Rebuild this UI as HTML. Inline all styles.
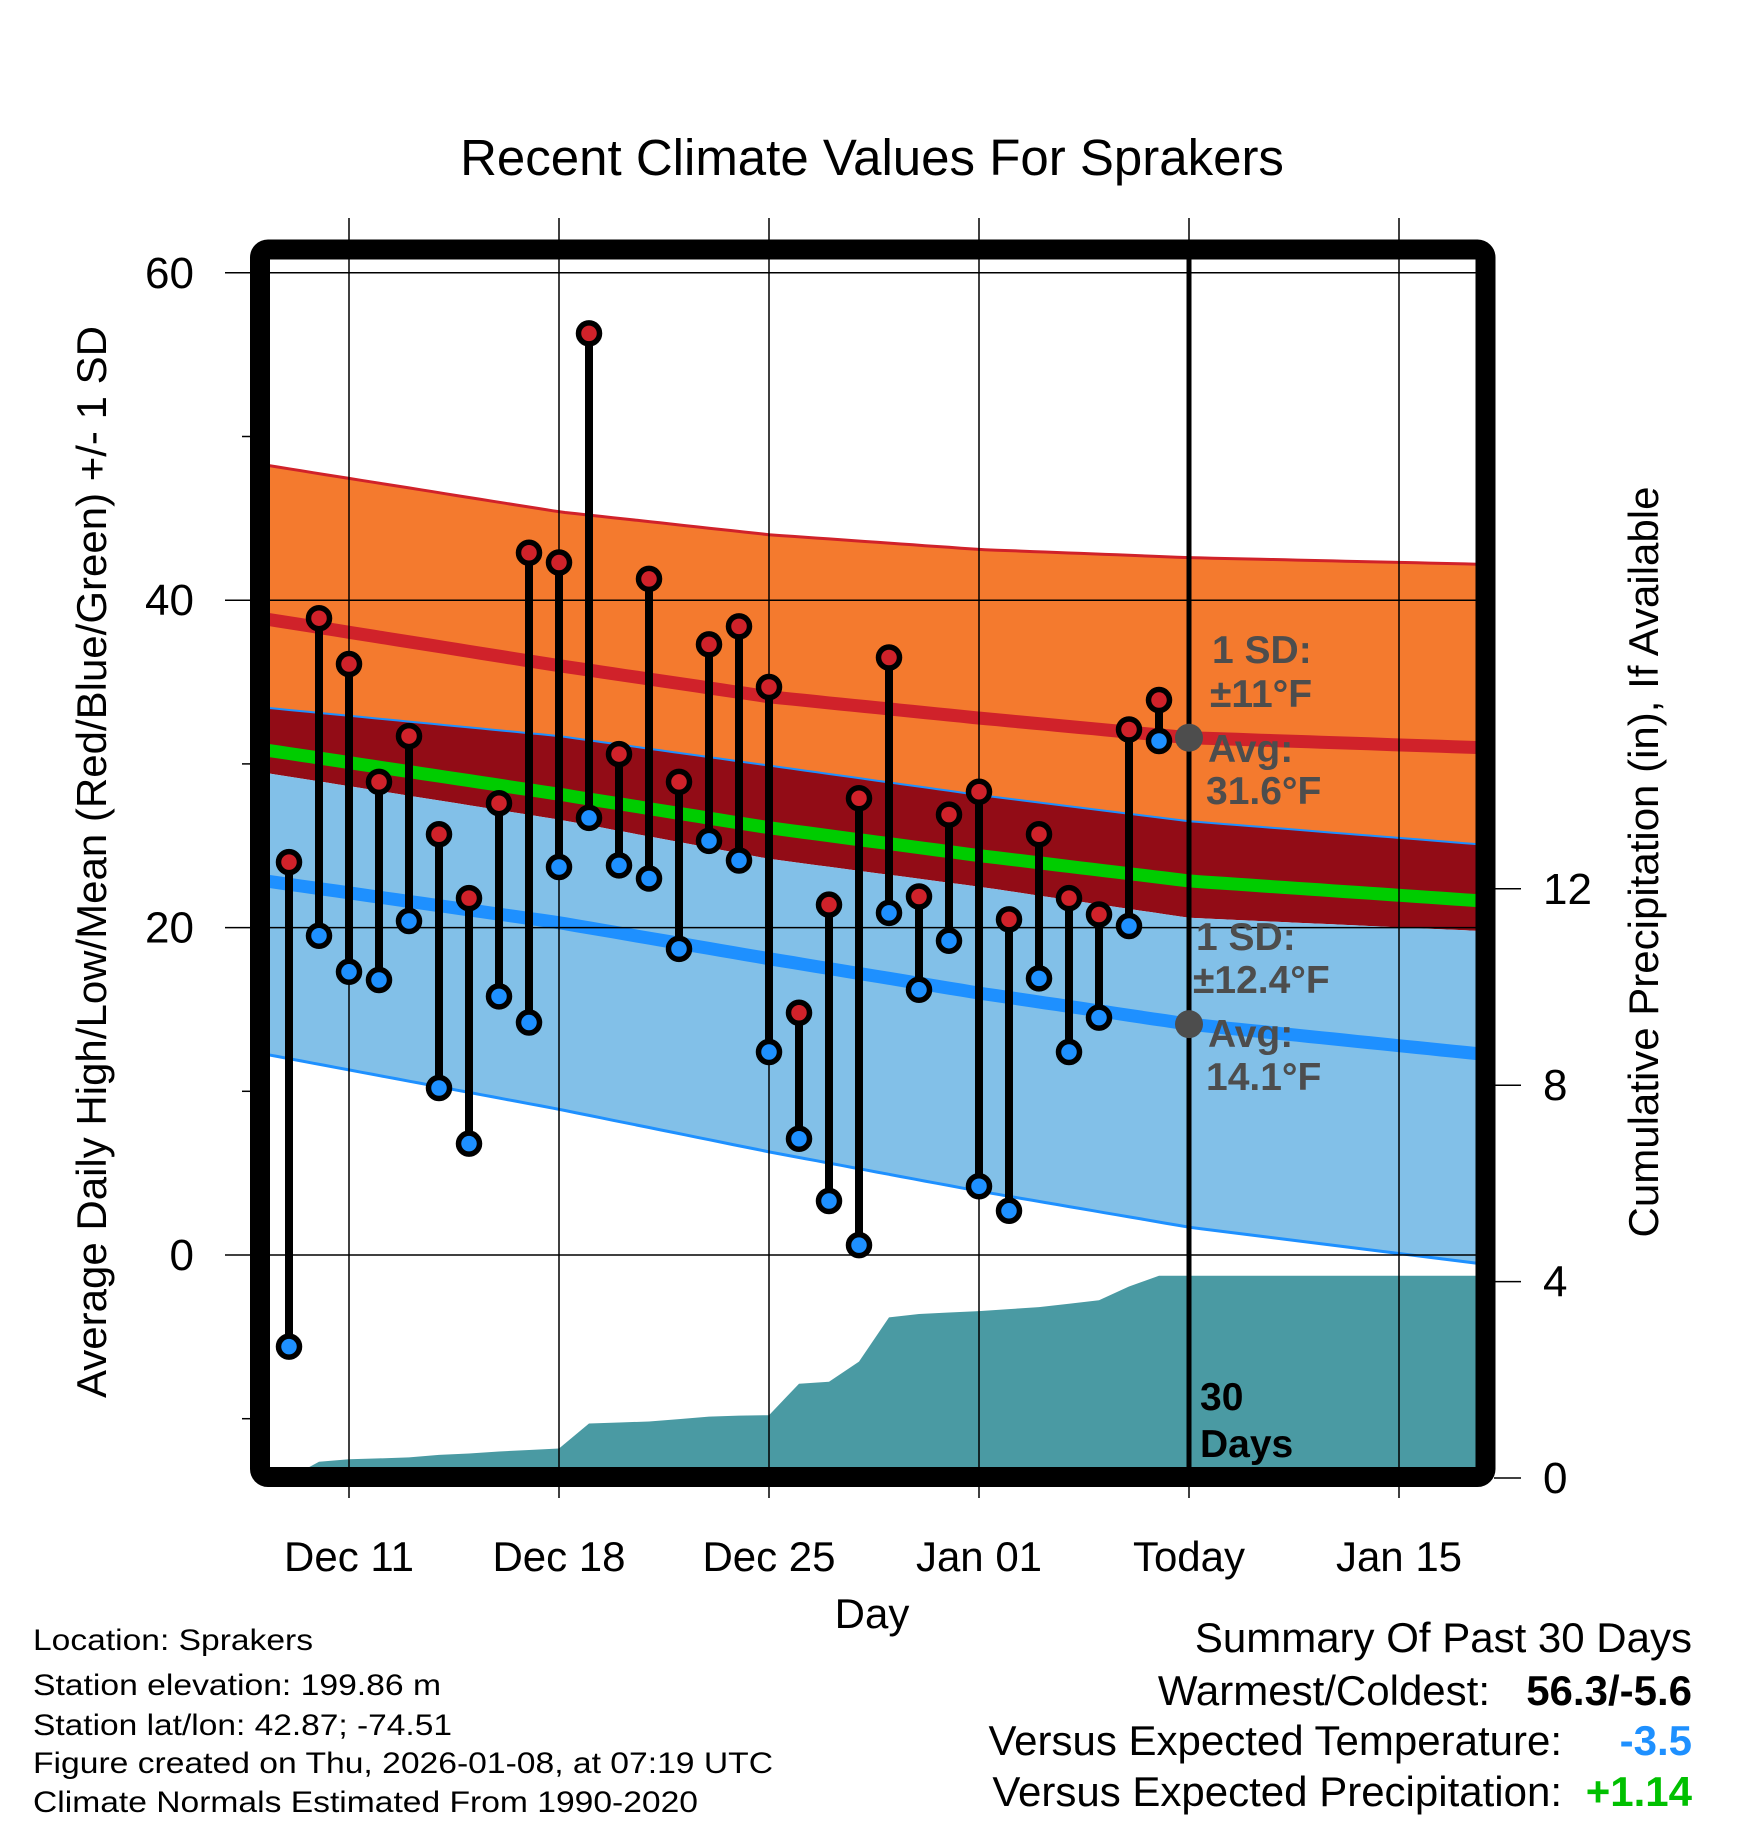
<!DOCTYPE html>
<html><head><meta charset="utf-8"><style>
html,body{margin:0;padding:0;background:#fff}
svg{display:block}
text{font-family:"Liberation Sans",sans-serif}
</style></head><body>
<svg id="chart" width="1748" height="1828" viewBox="0 0 1748 1828" xmlns="http://www.w3.org/2000/svg">
<defs><clipPath id="plotclip"><rect x="270" y="260" width="1208" height="1208"/></clipPath></defs>
<g id="bands" clip-path="url(#plotclip)"></g>
<g id="grid"></g>
<g id="marks"></g>
<rect x="260" y="249.5" width="1225.5" height="1227.5" rx="8" fill="none" stroke="#000" stroke-width="20"/>
<g id="labels"></g>
<text x="872" y="175" font-size="51" text-anchor="middle">Recent Climate Values For Sprakers</text>
<text x="872" y="1628" font-size="42" text-anchor="middle">Day</text>
<text transform="translate(106,862) rotate(-90)" font-size="42" text-anchor="middle">Average Daily High/Low/Mean (Red/Blue/Green) +/- 1 SD</text>
<text transform="translate(1658,862) rotate(-90)" font-size="42" text-anchor="middle">Cumulative Precipitation (in), If Available</text>
<g font-weight="bold" font-size="39" fill="#4d4d4d">
<text x="1212" y="663">1 SD:</text>
<text x="1210" y="707">±11°F</text>
<text x="1208" y="762">Avg:</text>
<text x="1206" y="804">31.6°F</text>
<text x="1196" y="950">1 SD:</text>
<text x="1193" y="993">±12.4°F</text>
<text x="1208" y="1047">Avg:</text>
<text x="1206" y="1090">14.1°F</text>
</g>
<g font-weight="bold" font-size="39">
<text x="1200" y="1410">30</text><text x="1200" y="1457">Days</text></g>
<g font-size="30">
<text x="33" y="1650" textLength="280" lengthAdjust="spacingAndGlyphs">Location: Sprakers</text>
<text x="33" y="1695" textLength="408" lengthAdjust="spacingAndGlyphs">Station elevation: 199.86 m</text>
<text x="33" y="1735" textLength="419" lengthAdjust="spacingAndGlyphs">Station lat/lon: 42.87; -74.51</text>
<text x="33" y="1773" textLength="740" lengthAdjust="spacingAndGlyphs">Figure created on Thu, 2026-01-08, at 07:19 UTC</text>
<text x="33" y="1812" textLength="665" lengthAdjust="spacingAndGlyphs">Climate Normals Estimated From 1990-2020</text>
</g>
<g font-size="42" text-anchor="end">
<text x="1692" y="1652">Summary Of Past 30 Days</text>
<text x="1490" y="1705">Warmest/Coldest:</text>
<text x="1692" y="1705" font-weight="bold">56.3/-5.6</text>
<text x="1562" y="1755">Versus Expected Temperature:</text>
<text x="1692" y="1755" font-weight="bold" fill="#1e90ff">-3.5</text>
<text x="1562" y="1806">Versus Expected Precipitation:</text>
<text x="1692" y="1806" font-weight="bold" fill="#00c000">+1.14</text>
</g>
</svg>
<script>
// days relative to Dec 11 (0)
const obsDays = [-2,-1,0,1,2,3,4,5,6,7,8,9,10,11,12,13,14,15,16,17,18,19,20,21,22,23,24,25,26,27];
const highs = [24.0,38.9,36.1,28.9,31.7,25.7,21.8,27.6,42.9,42.3,56.3,30.6,41.3,28.9,37.3,38.4,34.7,14.8,21.4,27.9,36.5,21.9,26.9,28.3,20.5,25.7,21.8,20.8,32.1,33.9];
const lows = [-5.6,19.5,17.3,16.8,20.4,10.2,6.8,15.8,14.2,23.7,26.7,23.8,23.0,18.7,25.3,24.1,12.4,7.1,3.3,0.6,20.9,16.2,19.2,4.2,2.7,16.9,12.4,14.5,20.1,31.4];
const precip = [0.0,0.33,0.38,0.40,0.42,0.47,0.50,0.54,0.57,0.60,1.11,1.13,1.15,1.20,1.25,1.27,1.28,1.92,1.96,2.37,3.27,3.34,3.37,3.40,3.44,3.48,3.55,3.62,3.90,4.12];
const normDays = [-2.6,7,14,21,28,37.6];
const normHigh = [38.8,36.0,34.1,32.8,31.6,31.0];
const normLow = [22.8,20.3,18.1,16.0,14.1,12.3];
const sdHigh = [9.4,9.4,9.9,10.3,11.0,11.2];
const sdLow = [10.6,11.4,11.8,12.1,12.4,12.8];
const xTickDays = [0,7,14,21,28,35];
const xTickLabels = ["Dec 11","Dec 18","Dec 25","Jan 01","Today","Jan 15"];
const yTicks = [60,40,20,0];
const yMinor = [50,30,10,-10];
const pTicks = [0,4,8,12];
const todayDay = 28, lastDay = 38.2, firstDay = -2.8;

const NS="http://www.w3.org/2000/svg";
const X = d => 349 + 30*d;
const Y = v => 1255 - 16.37*v;
const P = p => 1478 - 49.1*p;
function mk(tag, attrs, parent){const e=document.createElementNS(NS,tag);for(const k in attrs)e.setAttribute(k,attrs[k]);parent.appendChild(e);return e;}
function interp(arr,d){for(let i=0;i<normDays.length-1;i++){if(d<=normDays[i+1]||i==normDays.length-2){const t=(d-normDays[i])/(normDays[i+1]-normDays[i]);return arr[i]+t*(arr[i+1]-arr[i]);}}}
const samp=[];for(let d=firstDay;d<=lastDay+0.01;d+=0.4)samp.push(d);
const fH=d=>interp(normHigh,d), fL=d=>interp(normLow,d), sH=d=>interp(sdHigh,d), sL=d=>interp(sdLow,d);
function line(fn){return samp.map(d=>X(d).toFixed(1)+","+Y(fn(d)).toFixed(1)).join(" ");}
function band(f1,f2){const a=samp.map(d=>X(d).toFixed(1)+","+Y(f1(d)).toFixed(1));const b=samp.slice().reverse().map(d=>X(d).toFixed(1)+","+Y(f2(d)).toFixed(1));return a.concat(b).join(" ");}
const bands=document.getElementById('bands');
let e;
e=mk('polygon',{points:band(d=>fH(d)+sH(d),d=>fL(d)+sL(d)),fill:'#f47a2e'},bands);


e=mk('polygon',{points:band(d=>fL(d)+sL(d),d=>fH(d)-sH(d)),fill:'#920c16'},bands);


e=mk('polygon',{points:band(d=>fH(d)-sH(d),d=>fL(d)-sL(d)),fill:'#82c0e8'},bands);


e=mk('polyline',{points:line(d=>fH(d)+sH(d)),fill:'none',stroke:'#d0222a','stroke-width':3},bands);


e=mk('polyline',{points:line(d=>fL(d)+sL(d)),fill:'none',stroke:'#1e90ff','stroke-width':2},bands);


e=mk('polyline',{points:line(d=>fL(d)-sL(d)),fill:'none',stroke:'#1e90ff','stroke-width':3},bands);


e=mk('polyline',{points:line(fH),fill:'none',stroke:'#d0222a','stroke-width':13},bands);


e=mk('polyline',{points:line(d=>(fH(d)+fL(d))/2),fill:'none',stroke:'#00cc00','stroke-width':13},bands);


e=mk('polyline',{points:line(fL),fill:'none',stroke:'#1e90ff','stroke-width':13},bands);


// precipitation area
let pts=[X(obsDays[0])+","+1480];
obsDays.forEach((d,i)=>pts.push(X(d)+","+P(precip[i]).toFixed(1)));
pts.push(X(lastDay)+","+P(precip[precip.length-1]).toFixed(1));
pts.push(X(lastDay)+",1480");
e=mk('polygon',{points:pts.join(" "),fill:'#4a9aa3'},bands);



// grid
const grid=document.getElementById('grid');
xTickDays.forEach((d,i)=>{
  e=mk('line',{x1:X(d),x2:X(d),y1:218,y2:1468,stroke:'#000','stroke-width':1.5},grid);
  
  
  e=mk('line',{x1:X(d),x2:X(d),y1:1478,y2:1498,stroke:'#000','stroke-width':1.5},grid);
  
  
});
e=mk('line',{x1:X(todayDay),x2:X(todayDay),y1:258,y2:1468,stroke:'#000','stroke-width':5},grid);


yTicks.forEach(v=>{
  e=mk('line',{x1:225,x2:1478,y1:Y(v),y2:Y(v),stroke:'#000','stroke-width':1.5},grid);
  
  
});
yMinor.forEach(v=>{
  e=mk('line',{x1:242,x2:252,y1:Y(v),y2:Y(v),stroke:'#000','stroke-width':1.5},grid);
  
  
});
pTicks.forEach(p=>{
  e=mk('line',{x1:1494,x2:1521,y1:P(p),y2:P(p),stroke:'#000','stroke-width':1.5},grid);
  
  
});

// marks
const marks=document.getElementById('marks');
obsDays.forEach((d,i)=>{
  e=mk('line',{x1:X(d),x2:X(d),y1:Y(highs[i]),y2:Y(lows[i]),stroke:'#000','stroke-width':8},marks);
  
  
});
obsDays.forEach((d,i)=>{
  e=mk('circle',{cx:X(d),cy:Y(highs[i]),r:10.5,fill:'#d0222a',stroke:'#000','stroke-width':5.5},marks);
  
  
  e=mk('circle',{cx:X(d),cy:Y(lows[i]),r:10.5,fill:'#1e90ff',stroke:'#000','stroke-width':5.5},marks);
  
  
});
e=mk('circle',{cx:X(todayDay),cy:Y(fH(todayDay)),r:14,fill:'#4d4d4d'},marks);


e=mk('circle',{cx:X(todayDay),cy:Y(fL(todayDay)),r:14,fill:'#4d4d4d'},marks);



// labels
const labels=document.getElementById('labels');
xTickDays.forEach((d,i)=>{
  e=mk('text',{x:X(d),y:1571,'font-size':42,'text-anchor':'middle'},labels);
  e.textContent=xTickLabels[i];
  
  
});
yTicks.forEach(v=>{
  e=mk('text',{x:194,y:Y(v)+15,'font-size':44,'text-anchor':'end'},labels);
  e.textContent=String(v);
  
  
});
pTicks.forEach(p=>{
  e=mk('text',{x:1543,y:P(p)+15,'font-size':44},labels);
  e.textContent=String(p);
  
  
});
</script>
</body></html>
